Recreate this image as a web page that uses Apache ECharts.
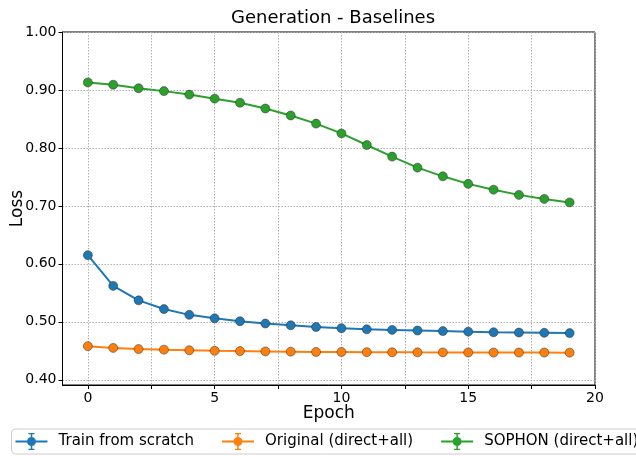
<!DOCTYPE html>
<html>
<head>
<meta charset="utf-8">
<script src="https://cdn.jsdelivr.net/npm/echarts@6/dist/echarts.min.js"></script>
<style>html,body{margin:0;padding:0;background:#fff;}#c{width:636px;height:456px;}</style>
</head>
<body>
<div id="c"></div>
<script>
const epochs = [0,1,2,3,4,5,6,7,8,9,10,11,12,13,14,15,16,17,18,19];
const trainScratch = [0.615,0.562,0.537,0.522,0.512,0.506,0.501,0.497,0.494,0.491,0.489,0.487,0.486,0.485,0.484,0.483,0.482,0.4815,0.481,0.4805];
const originalDirect = [0.458,0.455,0.453,0.452,0.451,0.450,0.4495,0.449,0.4485,0.448,0.448,0.4477,0.4475,0.4473,0.4472,0.4471,0.447,0.447,0.447,0.4468];
const sophonDirect = [0.913,0.909,0.903,0.898,0.892,0.885,0.878,0.868,0.856,0.842,0.825,0.805,0.785,0.766,0.751,0.738,0.728,0.719,0.712,0.706];
const seriesNames = ['Train from scratch','Original (direct+all)','SOPHON (direct+all)'];
const colors = ['#1f77b4','#ff7f0e','#2ca02c'];
const xTickValues = [0,2.5,5,7.5,10,12.5,15,17.5,20];
const xLabelValues = [0,5,10,15,20];
const yTickValues = [0.4,0.5,0.6,0.7,0.8,0.9,1.0];

const font = 'DejaVu Sans';
const legendIcon = 'path://M0,7.5L32,7.5L32,9.5L0,9.5Z M15.25,0.5L16.75,0.5L16.75,16.5L15.25,16.5Z M13,0L19,0L19,1.2L13,1.2Z M13,15.8L19,15.8L19,17L13,17Z M20.5,8.5A4.5,4.5 0 1,1 11.5,8.5A4.5,4.5 0 1,1 20.5,8.5Z';
const chart = echarts.init(document.getElementById('c'), null, {renderer:'canvas'});
function mk(name, vals, color){
  return {
    name: name, type: 'line',
    data: epochs.map((e,i)=>[e, vals[i]]),
    symbol: 'circle', symbolSize: 9,
    lineStyle: {color: color, width: 2},
    itemStyle: {color: color, borderColor: 'rgba(40,40,40,0.6)', borderWidth: 0.8},
    emphasis: {disabled: true},
    animation: false
  };
}
chart.setOption({
  animation: false,
  color: colors,
  title: {text: 'Generation - Baselines', left: 328, textAlign: 'center', top: 4,
    textStyle: {fontFamily: font, fontSize: 18, fontWeight: 'normal', color: '#000'}},
  grid: {left: 62.5, right: 41, top: 32, bottom: 71, show: true, borderColor: '#000', borderWidth: 1,
    containLabel: false, outerBoundsMode: 'none'},
  legend: {
    data: seriesNames, left: 11.5, top: 429, width: 700, orient: 'horizontal',
    borderColor: '#cccccc', borderWidth: 1, borderRadius: 4, padding: [3, 8, 3, 4],
    itemWidth: 32, itemHeight: 17, itemGap: 28, icon: legendIcon,
    itemStyle: {borderWidth: 0},
    textStyle: {fontFamily: font, fontSize: 15, color: '#000', padding: [0,0,0,6], lineHeight: 19}
  },
  xAxis: {
    type: 'value', min: -1, max: 20,
    name: 'Epoch', nameLocation: 'middle', nameGap: 20, nameMoveOverlap: false,
    nameTextStyle: {fontFamily: font, fontSize: 17, color: '#000'},
    axisLine: {onZero: false, lineStyle: {color: '#000', width: 1}},
    axisTick: {show: true, length: 4, inside: false, customValues: xTickValues, lineStyle: {color: '#000'}},
    axisLabel: {customValues: xLabelValues, fontFamily: font, fontSize: 14, color: '#000', margin: 6},
    splitLine: {show: true, lineStyle: {color: '#b0b0b0', type: [1.5, 1.5], width: 1}}
  },
  yAxis: {
    type: 'value', min: 0.391, max: 1.0,
    name: 'Loss', nameLocation: 'middle', nameGap: 36, nameMoveOverlap: false,
    nameTextStyle: {fontFamily: font, fontSize: 17, color: '#000'},
    axisLine: {show: true, onZero: false, lineStyle: {color: '#000', width: 1}},
    axisTick: {show: true, length: 4, customValues: yTickValues, lineStyle: {color: '#000'}},
    axisLabel: {customValues: yTickValues, formatter: v => v.toFixed(2), fontFamily: font, fontSize: 14, color: '#000', margin: 6},
    splitLine: {show: true, lineStyle: {color: '#b0b0b0', type: [1.5, 1.5], width: 1}}
  },
  series: [
    mk(seriesNames[0], trainScratch, colors[0]),
    mk(seriesNames[1], originalDirect, colors[1]),
    mk(seriesNames[2], sophonDirect, colors[2])
  ]
});
</script>
</body>
</html>
